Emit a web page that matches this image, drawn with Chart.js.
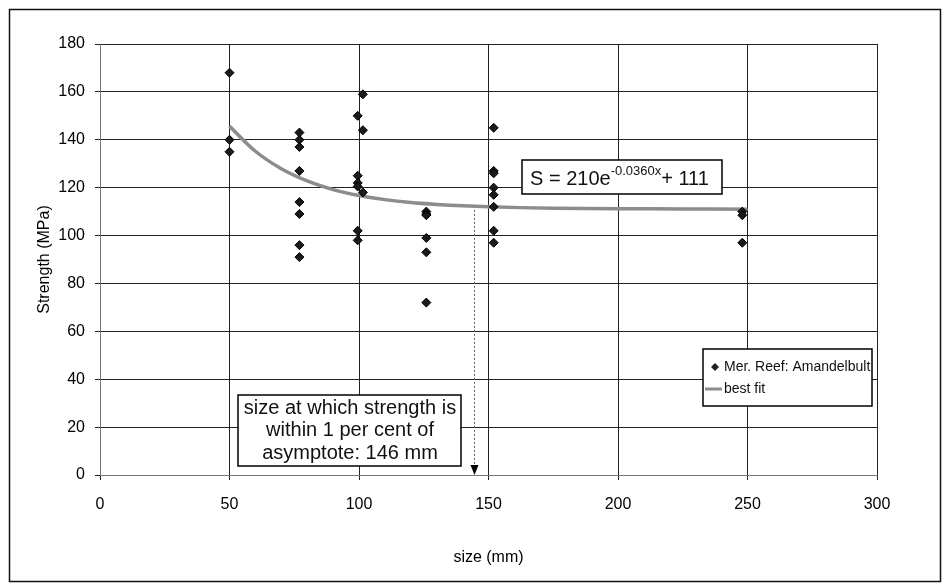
<!DOCTYPE html>
<html>
<head>
<meta charset="utf-8">
<script src="https://cdn.jsdelivr.net/npm/chart.js@4.4.0/dist/chart.umd.min.js"></script>
<style>
  html, body { margin: 0; padding: 0; background: #fff; }
  canvas { display: block; }
</style>
</head>
<body>
<canvas id="chart" width="949" height="587"></canvas>
<script>
// tick labels
const xTicks = [0, 50, 100, 150, 200, 250, 300];
const yTicks = [0, 20, 40, 60, 80, 100, 120, 140, 160, 180];

// measured specimens (size in mm, strength in MPa)
const sizes = [
  50, 50, 50,
  77, 77, 77, 77, 77, 77, 77, 77,
  101.5, 99.5, 101.5, 99.5, 99.5, 99.5, 101.5, 99.5, 99.5,
  126, 126, 126, 126, 126, 126,
  152, 152, 152, 152, 152, 152, 152, 152,
  248, 248, 248
];
const strengths = [
  168, 140, 135,
  143, 140, 137, 127, 114, 109, 96, 91,
  159, 150, 144, 125, 122, 120.5, 118, 102, 98,
  110, 109, 108.5, 99, 93, 72,
  145, 127, 126, 120, 117, 112, 102, 97,
  110, 108.5, 97
];

// best fit curve
const fitSizes = [50, 60, 70, 80, 90, 100, 110, 120, 130, 140, 150, 175, 200, 225, 250];
const fitStrengths = [145.7, 135.2, 127.9, 122.8, 119.2, 116.7, 115.0, 113.8, 113.0, 112.4, 112.0, 111.4, 111.2, 111.1, 111.0];

// arrow marking the 1 per cent size
const arrowSize = 144.5;
const arrowTop = 112;

const seriesLabels = ['Mer. Reef: Amandelbult', 'best fit'];
const noteLines = ['size at which strength is', 'within 1 per cent of', 'asymptote: 146 mm'];

const FONT = '"Liberation Sans", Arial, sans-serif';

const decorPlugin = {
  id: 'decor',
  beforeDraw(chart) {
    const ctx = chart.ctx;
    ctx.save();
    ctx.fillStyle = '#fff';
    ctx.fillRect(0, 0, chart.width, chart.height);
    ctx.strokeStyle = '#111';
    ctx.lineWidth = 1.5;
    ctx.strokeRect(9.5, 9.5, 931, 572);
    ctx.restore();
  },
  afterDatasetsDraw(chart) {
    const ctx = chart.ctx;
    const xs = chart.scales.x, ys = chart.scales.y;
    ctx.save();

    // arrow
    const ax = Math.round(xs.getPixelForValue(arrowSize)) + 0.5;
    const ay0 = ys.getPixelForValue(arrowTop) + 3;
    const ay1 = ys.getPixelForValue(0);
    ctx.strokeStyle = '#666';
    ctx.lineWidth = 1;
    ctx.setLineDash([2, 2]);
    ctx.beginPath();
    ctx.moveTo(ax, ay0);
    ctx.lineTo(ax, ay1 - 8);
    ctx.stroke();
    ctx.setLineDash([]);
    ctx.fillStyle = '#000';
    ctx.beginPath();
    ctx.moveTo(ax - 4, ay1 - 10);
    ctx.lineTo(ax + 4, ay1 - 10);
    ctx.lineTo(ax, ay1);
    ctx.closePath();
    ctx.fill();

    // note box
    ctx.fillStyle = '#fff';
    ctx.fillRect(238, 395, 223, 71);
    ctx.strokeStyle = '#000';
    ctx.lineWidth = 1.5;
    ctx.strokeRect(238, 395, 223, 71);
    ctx.fillStyle = '#111';
    ctx.font = '20px ' + FONT;
    ctx.textAlign = 'center';
    ctx.textBaseline = 'middle';
    noteLines.forEach((t, i) => ctx.fillText(t, 350, 408 + i * 22.5));

    // equation box
    ctx.fillStyle = '#fff';
    ctx.fillRect(522, 160, 200, 34);
    ctx.strokeRect(522, 160, 200, 34);
    ctx.fillStyle = '#111';
    ctx.textAlign = 'left';
    ctx.textBaseline = 'alphabetic';
    let tx = 530;
    const base = 185;
    ctx.font = '20px ' + FONT;
    ctx.fillText('S = 210e', tx, base);
    tx += ctx.measureText('S = 210e').width;
    ctx.font = '13px ' + FONT;
    ctx.fillText('-0.0360x', tx, base - 10);
    tx += ctx.measureText('-0.0360x').width;
    ctx.font = '20px ' + FONT;
    ctx.fillText('+ 111', tx, base);

    // legend
    const lx = 703, ly = 349, lw = 169, lh = 57;
    ctx.fillStyle = '#fff';
    ctx.fillRect(lx, ly, lw, lh);
    ctx.strokeStyle = '#000';
    ctx.lineWidth = 1.5;
    ctx.strokeRect(lx, ly, lw, lh);
    ctx.fillStyle = '#222';
    ctx.beginPath();
    ctx.moveTo(715, ly + 14); ctx.lineTo(719, ly + 18); ctx.lineTo(715, ly + 22); ctx.lineTo(711, ly + 18);
    ctx.closePath();
    ctx.fill();
    ctx.strokeStyle = '#8c8c8c';
    ctx.lineWidth = 3;
    ctx.beginPath();
    ctx.moveTo(705, ly + 40); ctx.lineTo(722, ly + 40);
    ctx.stroke();
    ctx.fillStyle = '#111';
    ctx.font = '14px ' + FONT;
    ctx.textBaseline = 'middle';
    ctx.fillText(seriesLabels[0], 724, ly + 18);
    ctx.fillText(seriesLabels[1], 724, ly + 40);

    ctx.restore();
  }
};

const pointData = sizes.map((s, i) => ({ x: s, y: strengths[i] }));
const fitData = fitSizes.map((s, i) => ({ x: s, y: fitStrengths[i] }));

new Chart(document.getElementById('chart'), {
  type: 'scatter',
  data: {
    datasets: [{
      label: seriesLabels[0],
      data: pointData,
      pointStyle: 'rectRot',
      pointRadius: 4.5,
      backgroundColor: '#1a1a1a',
      borderColor: '#000',
      borderWidth: 1,
      order: 0
    }, {
      label: seriesLabels[1],
      type: 'line',
      data: fitData,
      borderColor: '#8c8c8c',
      borderWidth: 3.5,
      pointRadius: 0,
      tension: 0.3,
      fill: false,
      order: 1
    }]
  },
  options: {
    responsive: false,
    animation: false,
    devicePixelRatio: 1,
    layout: { padding: { left: 12, right: 72, top: 44, bottom: 6 } },
    plugins: {
      legend: { display: false },
      tooltip: { enabled: false }
    },
    scales: {
      x: {
        type: 'linear',
        min: 0, max: 300,
        afterFit: s => { s.height = 106; },
        afterBuildTicks: s => { s.ticks = xTicks.map(v => ({ value: v })); },
        ticks: { color: '#000', font: { family: FONT, size: 16 }, padding: 15 },
        grid: { color: '#222', lineWidth: 1, tickLength: 5 },
        border: { color: '#777', width: 1 },
        title: { display: true, text: 'size (mm)', color: '#000', font: { family: FONT, size: 16 }, padding: { top: 4, bottom: 14 } }
      },
      y: {
        min: 0, max: 180,
        afterFit: s => { s.width = 88; },
        afterBuildTicks: s => { s.ticks = yTicks.map(v => ({ value: v })); },
        ticks: { color: '#000', font: { family: FONT, size: 16 }, padding: 10 },
        grid: { color: '#222', lineWidth: 1, tickLength: 5 },
        border: { color: '#777', width: 1 },
        title: { display: true, text: 'Strength (MPa)', color: '#000', font: { family: FONT, size: 16 }, padding: { top: 23, bottom: 0 } }
      }
    }
  },
  plugins: [decorPlugin]
});
</script>
</body>
</html>
